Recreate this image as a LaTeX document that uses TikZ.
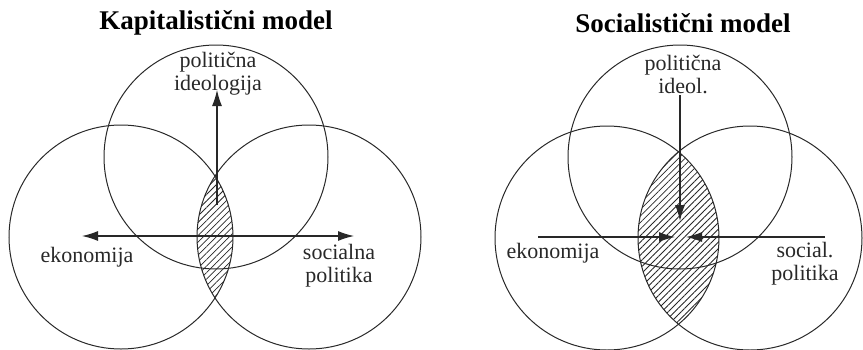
\documentclass[tikz,border=0pt]{standalone}
\usepackage{fontspec}
\setmainfont{Liberation Serif}
\usetikzlibrary{patterns.meta,arrows.meta}
\definecolor{inkgray}{RGB}{40, 40, 40}

\begin{document}
\begin{tikzpicture}[x=0.5pt,y=-0.5pt,
  ring/.style={draw=inkgray, line width=0.5pt, circle, minimum size=112pt, inner sep=0pt, outer sep=0pt},
  lbl/.style={inner sep=0pt, align=center, text=inkgray, font=\fontsize{11}{11.5}\selectfont},
  ttl/.style={inner sep=0pt, font=\fontsize{13.5}{15}\selectfont\bfseries},
  arr/.style={draw=inkgray, line width=0.6pt, -{Latex[length=8pt,width=5pt]}},
  hatch/.style={pattern={Lines[angle=45,distance=2.3pt,line width=0.4pt]}, pattern color=inkgray}]
\useasboundingbox (0,0) rectangle (863,349);

% Kapitalisticni model
\node[ttl] (ktitle) at (216,23) {Kapitalistični model};
\node[ring] (ktop) at (216,157) {};
\node[ring] (kleft) at (121,237) {};
\node[ring] (kright) at (309,237) {};
\begin{scope}
\clip (kleft.center) circle [radius=56pt];
\fill[hatch] (kright.center) circle [radius=56pt];
\end{scope}
\node[lbl] (kpol) at (218,74) {politična\\ideologija};
\node[lbl] (keko) at (87,257) {ekonomija};
\node[lbl] (ksoc) at (339,266) {socialna\\politika};
\coordinate (kc) at (217,236);
\coordinate (kw) at (82,236);
\coordinate (ke) at (354,236);
\coordinate (kb) at (217,205);
\coordinate (kn) at (217,90);
\draw[arr] (kc) -- (kw);
\draw[arr] (kc) -- (ke);
\draw[arr] (kb) -- (kn);

% Socialisticni model
\node[ttl] (stitle) at (683,23) {Socialistični model};
\node[ring] (stop) at (680,157) {};
\node[ring] (sleft) at (607,238) {};
\node[ring] (sright) at (750,238) {};
\begin{scope}
\clip (sleft.center) circle [radius=56pt];
\fill[hatch] (sright.center) circle [radius=56pt];
\end{scope}
\node[lbl] (spol) at (683,74) {politična\\ideol.};
\node[lbl] (seko) at (553,253) {ekonomija};
\node[lbl] (ssoc) at (805,264) {social.\\politika};
\coordinate (sw) at (538,237);
\coordinate (se) at (825,237);
\coordinate (sn) at (680,95);
\coordinate (sa) at (675,237);
\coordinate (sb) at (686,237);
\coordinate (sd) at (680,221);
\draw[arr] (sw) -- (sa);
\draw[arr] (se) -- (sb);
\draw[arr] (sn) -- (sd);
\end{tikzpicture}
\end{document}
